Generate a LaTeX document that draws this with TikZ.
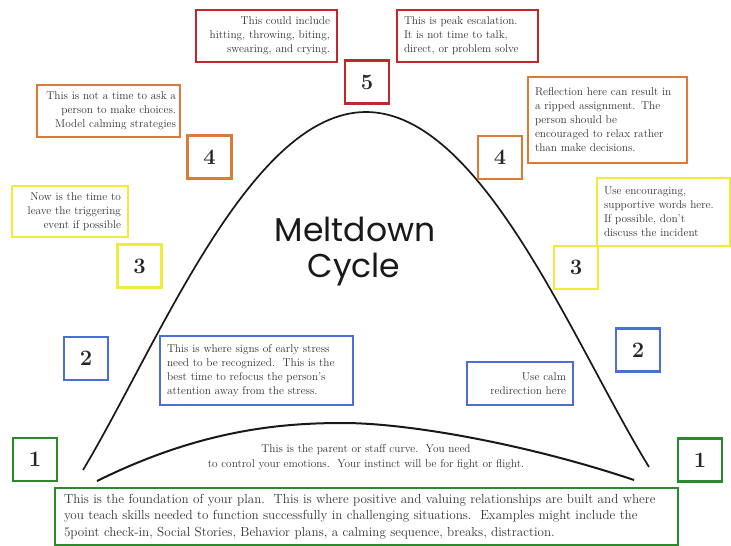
\documentclass[tikz,border=0pt]{standalone}
\usepackage{fontspec}
\newfontfamily\titlefont{Poppins}
\definecolor{cred}{HTML}{C4262E}
\definecolor{corange}{HTML}{DD7A35}
\definecolor{cyellow}{HTML}{F0EC3C}
\definecolor{cblue}{HTML}{4A6FD6}
\definecolor{cgreen}{HTML}{2C8A2C}
\definecolor{txt}{HTML}{333333}
\tikzset{
  note/.style={draw, line width=2pt, inner xsep=7pt, inner ysep=0pt,
    font=\fontsize{11.3}{14}\selectfont, text=txt},
  numbox/.style={draw, line width=2.2pt, minimum width=44pt, minimum height=43pt,
    inner sep=0pt, font=\fontsize{22}{22}\selectfont\bfseries, text=black!85},
  curve/.style={line width=1.7pt, black!90},
  titletext/.style={font=\titlefont\fontsize{33}{33}\selectfont, text=black!90}
}
\begin{document}
\begin{tikzpicture}[x=1pt,y=-1pt]
\useasboundingbox (0,0) rectangle (731,546);
\fill[white] (0,0) rectangle (731,546);
% curves
\draw[curve] (83,470) .. controls (158,345) and (250,112) .. (366,112)
  .. controls (482,112) and (574,345) .. (649,467);
\draw[curve, line width=2pt] (97,481) .. controls (200,430) and (280,423) .. (343,423)
  .. controls (410,423) and (530,445) .. (634,480);
% title
\node[titletext] (t1) at (355,229) {Meltdown};
\node[titletext] (t2) at (354,270) {Cycle};
% level 5
\node[note, cred, text=txt, minimum width=141pt, minimum height=52pt, text width=127pt, align=right] (r1) at (266.5,36) {This could include\\hitting, throwing, biting,\\swearing, and crying.};
\node[note, cred, text=txt, minimum width=141pt, minimum height=52pt, text width=127pt, align=left] (r2) at (467.5,36) {This is peak escalation.\\It is not time to talk,\\direct, or problem solve};
\node[numbox, cred, text=black!85] (n5) at (367,82) {5};
% level 4
\node[note, corange, text=txt, inner xsep=4pt, minimum width=143pt, minimum height=52pt, text width=135pt, align=right] (o1) at (108.5,111) {This is not a time to ask a\\person to make choices.\\Model calming strategies};
\node[numbox, corange, text=black!85] (n4l) at (209.5,157) {4};
\node[numbox, corange, text=black!85] (n4r) at (500,157.5) {4};
\node[note, corange, text=txt, minimum width=159pt, minimum height=86pt, text width=145pt, align=left] (o2) at (607.5,120) {Reflection here can result in\\a ripped assignment. The\\person should be\\encouraged to relax rather\\than make decisions.};
% level 3
\node[note, cyellow, text=txt, minimum width=116pt, minimum height=51pt, text width=102pt, align=right] (y1) at (70,211.5) {Now is the time to\\leave the triggering\\event if possible};
\node[numbox, cyellow, text=black!85] (n3l) at (139.5,266) {3};
\node[note, cyellow, text=txt, minimum width=133pt, minimum height=68pt, text width=119pt, align=left] (y2) at (663.5,212) {Use encouraging,\\supportive words here.\\If possible, don’t\\discuss the incident};
\node[numbox, cyellow, text=black!85] (n3r) at (576,267.5) {3};
% level 2
\node[numbox, cblue, text=black!85] (n2l) at (86,358.5) {2};
\node[note, cblue, text=txt, minimum width=193pt, minimum height=69pt, text width=179pt, align=left] (b1) at (256.5,370.5) {This is where signs of early stress\\need to be recognized.\ \ This is the\\best time to refocus the person’s\\attention away from the stress.};
\node[note, cblue, text=txt, minimum width=106pt, minimum height=43pt, text width=92pt, align=right] (b2) at (520,383.5) {Use calm\\redirection here};
\node[numbox, cblue, text=black!85] (n2r) at (638,350) {2};
% level 1
\node[numbox, cgreen, text=black!85] (n1l) at (35,459.5) {1};
\node[numbox, cgreen, text=black!85] (n1r) at (700,460) {1};
\node[font=\fontsize{11.3}{14.5}\selectfont, text=txt, align=center] (pc) at (366,457) {This is the parent or staff curve.\ \ You need\\to control your emotions.\ \ Your instinct will be for fight or flight.};
\node[note, cgreen, text=txt, inner xsep=9pt, minimum width=623pt, minimum height=57pt, text width=605pt, align=left, font=\fontsize{13.1}{16.5}\selectfont] (g1) at (366.5,516.5) {This is the foundation of your plan.\ \ This is where positive and valuing relationships are built and where\\you teach skills needed to function successfully in challenging situations.\ \ Examples might include the\\5point check-in, Social Stories, Behavior plans, a calming sequence, breaks, distraction.};
\end{tikzpicture}
\end{document}
